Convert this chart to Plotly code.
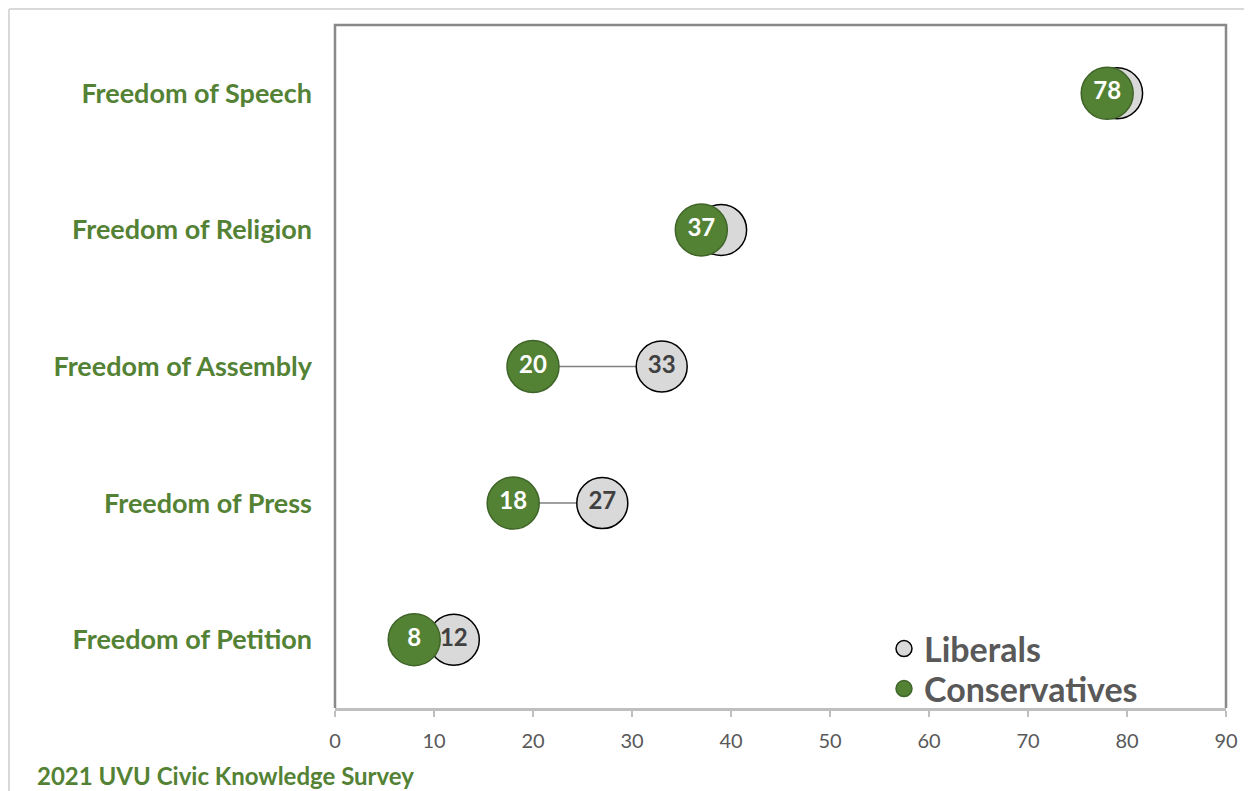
import plotly.graph_objects as go

categories = ["Freedom of Petition", "Freedom of Press", "Freedom of Assembly",
              "Freedom of Religion", "Freedom of Speech"]
liberals = [12, 27, 33, 39, 79]
conservatives = [8, 18, 20, 37, 78]
x_ticks = [0, 10, 20, 30, 40, 50, 60, 70, 80, 90]

GREEN = "#548235"
FONT = "Lato"
ypos = [i + 0.5 for i in range(len(categories))]
# liberal labels hidden behind the conservative marker when the two overlap heavily
lib_text = [str(l) if abs(l - c) >= 3 else "" for l, c in zip(liberals, conservatives)]

fig = go.Figure()

for y, l, c in zip(ypos, liberals, conservatives):
    fig.add_trace(go.Scatter(x=[c, l], y=[y, y], mode="lines",
                             line=dict(color="#7f7f7f", width=1.5),
                             showlegend=False, hoverinfo="skip"))

fig.add_trace(go.Scatter(
    x=liberals, y=ypos, mode="markers+text", name="Liberals", legend="legend",
    marker=dict(size=51, color="#d9d9d9", line=dict(color="#000000", width=1.5)),
    text=lib_text, textposition="middle center",
    textfont=dict(family=FONT, size=24, color="#404040", weight="bold"),
))
fig.add_trace(go.Scatter(
    x=conservatives, y=ypos, mode="markers+text", name="Conservatives", legend="legend2",
    marker=dict(size=52, color=GREEN, line=dict(color="#3f6428", width=1.5)),
    text=[str(v) for v in conservatives], textposition="middle center",
    textfont=dict(family=FONT, size=24, color="#ffffff", weight="bold"),
))

# page body adds an 8px offset; compensate
OFF = 8
W, H = 1252, 791
L, T = 335 - OFF, 25 - OFF
R, B = W - (1226 - OFF), H - (708 - OFF)
pw, ph = W - L - R, H - T - B

def px_x(x):
    return (x - OFF - L) / pw

def px_y(y):
    return (H - B - (y - OFF)) / ph

shapes = [
    dict(type="path", xref="paper", yref="paper",
         path="M 0 0 L 0 1 L 1 1 L 1 0", line=dict(color="#898989", width=2.5)),
    dict(type="line", xref="paper", yref="paper",
         x0=px_x(9), x1=px_x(1260), y0=px_y(9), y1=px_y(9),
         line=dict(color="#d9d9d9", width=2)),
    dict(type="line", xref="paper", yref="paper",
         x0=px_x(9), x1=px_x(9), y0=px_y(9), y1=px_y(800),
         line=dict(color="#d9d9d9", width=2)),
]

legend_style = dict(xanchor="left", yanchor="top", bgcolor="rgba(0,0,0,0)",
                    itemsizing="trace", itemwidth=30,
                    font=dict(family=FONT, size=34, color="#595959", weight="bold"))

fig.update_layout(
    width=W, height=H,
    margin=dict(l=L, r=R, t=T, b=B),
    paper_bgcolor="white", plot_bgcolor="white",
    font=dict(family=FONT),
    shapes=shapes,
    xaxis=dict(range=[0, 90], tickvals=x_ticks, showgrid=False, zeroline=False,
               showline=True, linecolor="#bfbfbf", linewidth=2.5,
               ticks="outside", ticklen=6, tickcolor="#bfbfbf", tickwidth=1.5,
               ticklabelstandoff=7,
               tickfont=dict(family=FONT, size=20, color="#595959")),
    yaxis=dict(range=[0, 5], tickvals=ypos, ticktext=categories, showgrid=False,
               zeroline=False, showline=False, ticks="", ticklabelstandoff=22,
               tickfont=dict(family=FONT, size=27, color=GREEN, weight="bold")),
    legend=dict(x=px_x(884), y=px_y(620), **legend_style),
    legend2=dict(x=px_x(884), y=px_y(660), **legend_style),
    annotations=[dict(text="2021 UVU Civic Knowledge Survey", xref="paper", yref="paper",
                      x=px_x(35), y=px_y(775), xanchor="left",
                      yanchor="middle", showarrow=False,
                      font=dict(family=FONT, size=24, color=GREEN, weight="bold"))],
)

fig.write_html("out.html")
